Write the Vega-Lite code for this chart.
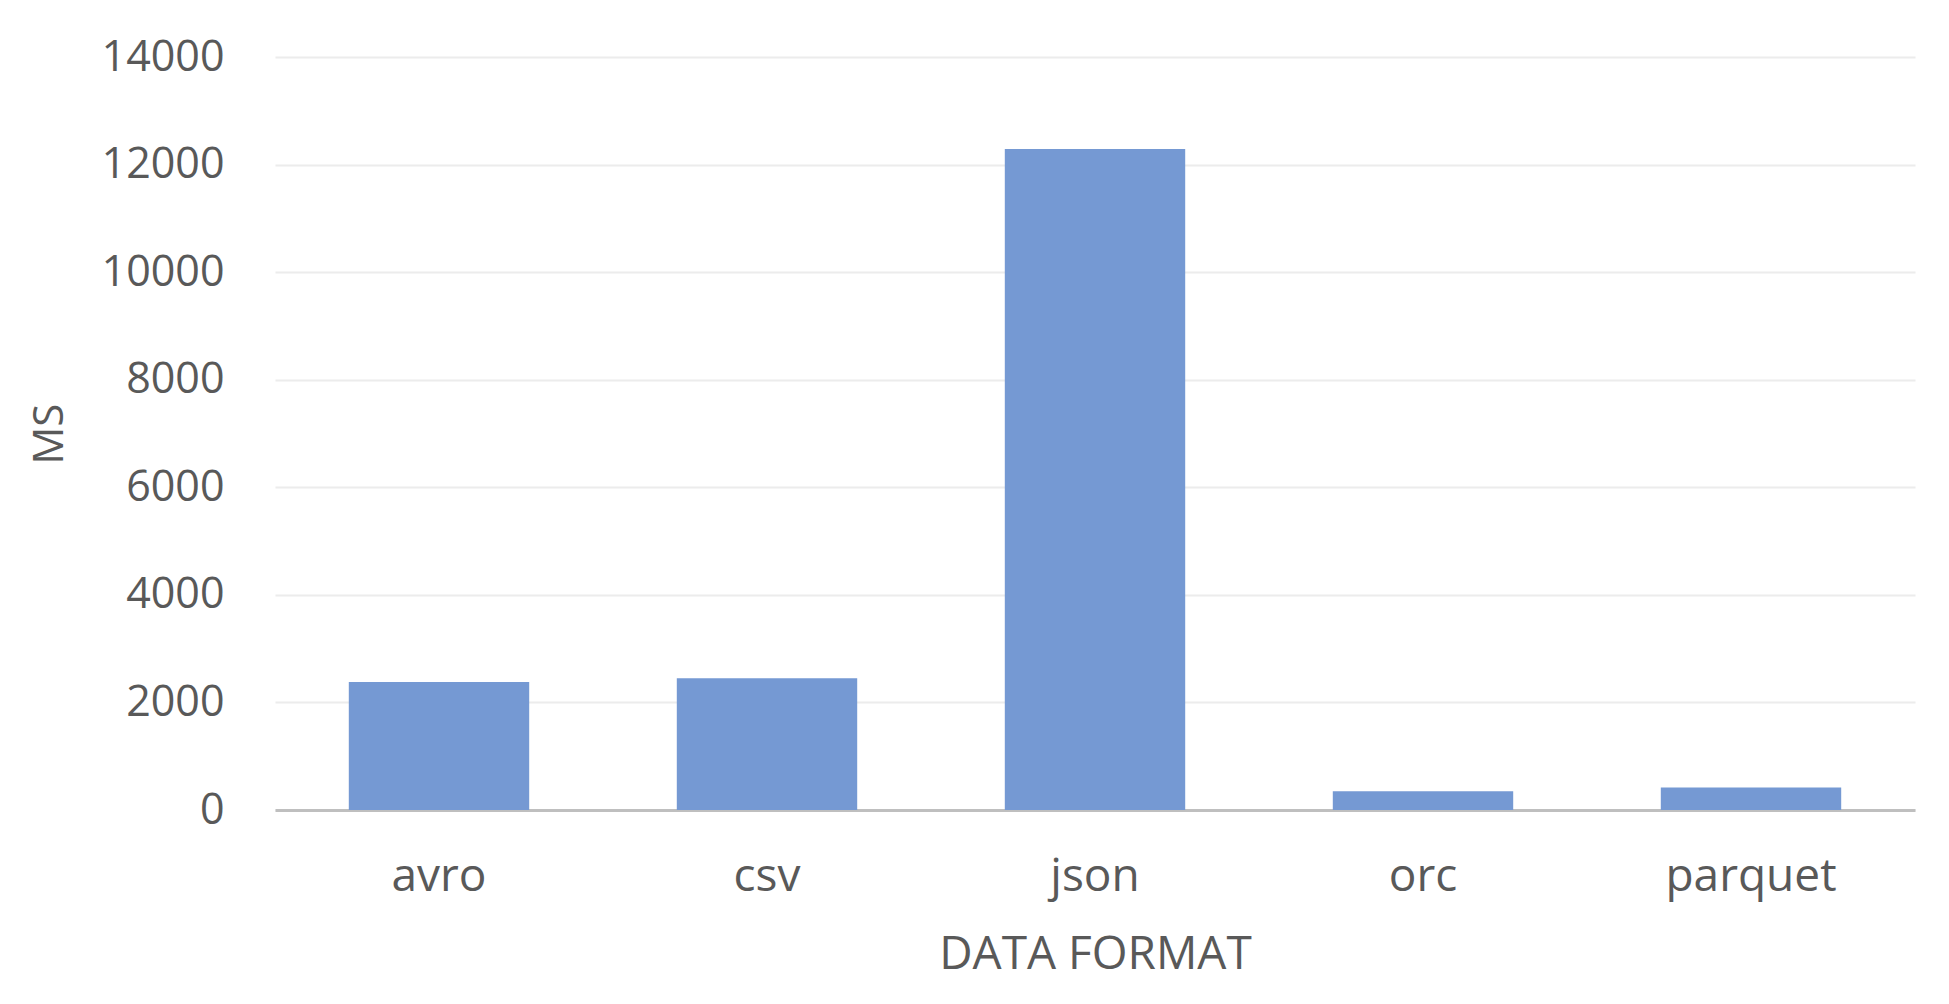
{
  "$schema": "https://vega.github.io/schema/vega-lite/v6.json",
  "autosize": "none",
  "padding": {"left": 275, "top": 57, "right": 34, "bottom": 194},
  "width": 1640,
  "height": 753,
  "background": "white",
  "data": {
    "values": [
      {"format": "avro", "ms": 2380},
      {"format": "csv", "ms": 2450},
      {"format": "json", "ms": 12290},
      {"format": "orc", "ms": 350},
      {"format": "parquet", "ms": 420}
    ]
  },
  "config": {
    "view": {"stroke": null},
    "font": "Open Sans"
  },
  "mark": {"type": "bar", "color": "#7599d3"},
  "encoding": {
    "x": {
      "field": "format",
      "type": "nominal",
      "title": "DATA FORMAT",
      "scale": {"paddingInner": 0.45, "paddingOuter": 0.225},
      "axis": {
        "labelAngle": 0,
        "labelFontSize": 46,
        "labelColor": "#595959",
        "labelPadding": 44,
        "ticks": false,
        "domainColor": "#bfbfbf",
        "domainWidth": 3,
        "titleFontSize": 46,
        "titleFontWeight": "normal",
        "titleColor": "#595959",
        "titlePadding": 33
      }
    },
    "y": {
      "field": "ms",
      "type": "quantitative",
      "title": "MS",
      "scale": {"domain": [0, 14000]},
      "axis": {
        "values": [0, 2000, 4000, 6000, 8000, 10000, 12000, 14000],
        "format": "d",
        "labelFontSize": 43,
        "labelColor": "#595959",
        "labelPadding": 51,
        "ticks": false,
        "domain": false,
        "gridColor": "#ececec",
        "gridWidth": 2,
        "titleFontSize": 42,
        "titleFontWeight": "normal",
        "titleColor": "#595959",
        "titlePadding": 30
      }
    }
  }
}
